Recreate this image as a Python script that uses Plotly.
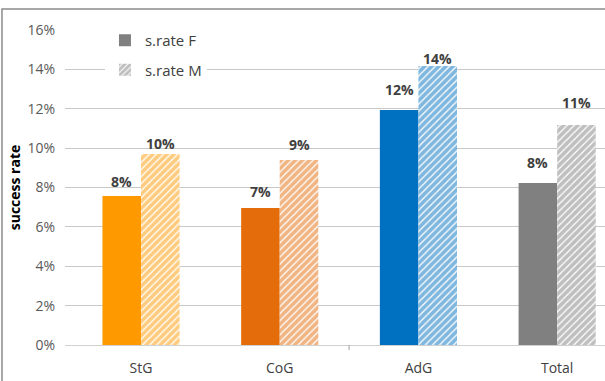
import plotly.graph_objects as go

categories = ["StG", "CoG", "AdG", "Total"]
rate_f = [0.0757, 0.0696, 0.1194, 0.0823]
rate_m = [0.0970, 0.0940, 0.1417, 0.1117]
series_names = ["s.rate F", "s.rate M"]
y_ticks = [0, 0.02, 0.04, 0.06, 0.08, 0.10, 0.12, 0.14, 0.16]

bar_colors = ["#FF9900", "#E46C0A", "#0070C0", "#808080"]
label_shift_f = [14, 16, 20, 20]
label_shift_m = [11, 15, 8, 23]

FONT = "Open Sans, Liberation Sans, sans-serif"
HATCH = dict(shape="/", bgcolor="white", size=5, solidity=0.75, fillmode="overlay")

fig = go.Figure()

fig.add_trace(go.Bar(
    x=categories, y=rate_f, name=series_names[0], showlegend=False,
    offsetgroup="F", marker=dict(color=bar_colors, line=dict(width=0)),
))
fig.add_trace(go.Bar(
    x=categories, y=rate_m, name=series_names[1], showlegend=False,
    offsetgroup="M",
    marker=dict(color="white", line=dict(width=0),
                pattern=dict(fgcolor=bar_colors, **HATCH)),
))
# legend entries
fig.add_trace(go.Bar(
    x=[categories[0]], y=[None], name=series_names[0], offsetgroup="F",
    marker=dict(color="#808080", line=dict(width=0)), legend="legend",
))
fig.add_trace(go.Bar(
    x=[categories[0]], y=[None], name=series_names[1], offsetgroup="M",
    marker=dict(color="white", line=dict(width=0),
                pattern=dict(fgcolor="#808080", **HATCH)),
    legend="legend2",
))

annotations = []
for i, c in enumerate(categories):
    for vals, shifts, xs in ((rate_f, label_shift_f, -19.3), (rate_m, label_shift_m, 19.3)):
        annotations.append(dict(
            x=c, y=vals[i], xref="x", yref="y", xshift=xs, yshift=shifts[i],
            text=f"<b>{round(vals[i] * 100):.0f}%</b>", showarrow=False,
            yanchor="middle", font=dict(family=FONT, size=14, color="#404040"),
        ))

fig.update_layout(
    width=605, height=381,
    margin=dict(l=65, r=0, t=30, b=36),
    paper_bgcolor="white", plot_bgcolor="white",
    barmode="group", bargap=0.444, bargroupgap=0,
    font=dict(family=FONT, size=14, color="#595959"),
    annotations=annotations,
    legend=dict(x=0.074, y=0.9667, xanchor="left", yanchor="middle",
                bgcolor="rgba(0,0,0,0)", font=dict(family=FONT, size=15, color="#404040")),
    legend2=dict(x=0.074, y=0.873, xanchor="left", yanchor="middle",
                 bgcolor="white", font=dict(family=FONT, size=15, color="#404040")),
    xaxis=dict(
        type="category", range=[-0.548, 3.345], showgrid=False, showline=False,
        ticks="", ticklabelstandoff=13, tickfont=dict(family=FONT, size=14, color="#404040"),
    ),
    yaxis=dict(
        range=[0, 0.16], tickvals=y_ticks, tickformat=".0%", showline=False,
        gridcolor="#C8C8C8", gridwidth=1, zeroline=True, zerolinecolor="#D0D0D0",
        zerolinewidth=1, ticklabelstandoff=9,
        tickfont=dict(family=FONT, size=14, color="#595959"),
        title=dict(text="<b>success rate</b>", standoff=3,
                   font=dict(family=FONT, size=14, color="#000000")),
    ),
    shapes=[
        dict(type="rect", xref="paper", yref="paper", x0=-0.1167, x1=1.2,
             y0=-0.3, y1=1.0667, line=dict(color="#8C8C8C", width=1.5),
             fillcolor="rgba(0,0,0,0)", layer="above"),
        dict(type="line", xref="x", yref="paper", x0=1.5, x1=1.5, y0=0, y1=-0.016,
             line=dict(color="#A0A0A0", width=1)),
    ],
)

fig.write_html("out.html")
